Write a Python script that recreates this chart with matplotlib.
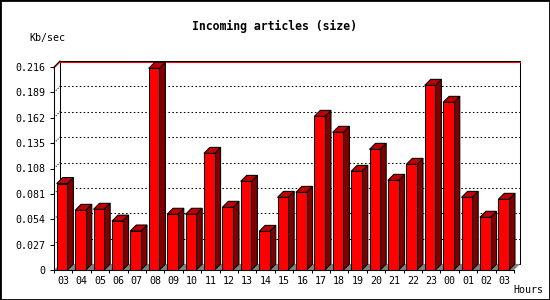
import numpy as np
import matplotlib
matplotlib.use('Agg')
from matplotlib import pyplot as plt
from matplotlib.patches import Polygon, Rectangle

# Hourly incoming article volume (Kb/sec)
hours = ['03', '04', '05', '06', '07', '08', '09', '10', '11', '12', '13', '14', '15',
         '16', '17', '18', '19', '20', '21', '22', '23', '00', '01', '02', '03']
kbps = [0.092, 0.0635, 0.0646, 0.052, 0.0415, 0.2146, 0.0593, 0.0593, 0.1241, 0.0667,
        0.0943, 0.0411, 0.0773, 0.0826, 0.1635, 0.1465, 0.105, 0.1284, 0.0954, 0.1124,
        0.1965, 0.1784, 0.0773, 0.0561, 0.0752]
y_ticks = [0, 0.027, 0.054, 0.081, 0.108, 0.135, 0.162, 0.189, 0.216]
y_tick_labels = ['0', '0.027', '0.054', '0.081', '0.108', '0.135', '0.162', '0.189', '0.216']

FIG_W, FIG_H = 550, 300
AX_LEFT, AX_BOTTOM, AX_W, AX_H = 54, 30, 460, 203  # front plane in pixels
DEPTH_PX = 6  # 3D depth offset in pixels
LW = 0.75

plt.rcParams['font.family'] = ['DejaVu Sans Mono']

fig = plt.figure(figsize=(FIG_W / 100, FIG_H / 100), dpi=100)
ax = fig.add_axes([AX_LEFT / FIG_W, AX_BOTTOM / FIG_H, AX_W / FIG_W, AX_H / FIG_H])
n = len(hours)
y_max = y_ticks[-1]
ax.set_xlim(0, n)
ax.set_ylim(0, y_max)
ax.patch.set_visible(False)

# pixel -> data conversions
px_x = n / AX_W
px_y = y_max / AX_H
dx = DEPTH_PX * px_x
dy = DEPTH_PX * px_y

# back wall
ax.add_patch(Rectangle((dx, dy), n, y_max, facecolor='white', edgecolor='black',
                       lw=LW, clip_on=False, zorder=0))
# floor
ax.add_patch(Polygon([(0, 0), (n, 0), (n + dx, dy), (dx, dy)], closed=True,
                     facecolor='#808080', edgecolor='none', clip_on=False, zorder=1))

# dotted grid on back wall and side wall
for v in y_ticks[1:-1]:
    ax.plot([dx, n + dx], [v + dy, v + dy], color='black', lw=LW, ls=(0, (1.5, 2.2)),
            clip_on=False, zorder=1)
    ax.plot([0, dx], [v, v + dy], color='black', lw=LW, ls=(0, (1, 1.5)),
            clip_on=False, zorder=1)

# red top edge
ax.plot([dx, n + dx], [y_max + dy - px_y, y_max + dy - px_y], color='red', lw=LW,
        clip_on=False, zorder=1)
ax.plot([0, dx], [y_max - px_y, y_max + dy - px_y], color='red', lw=LW,
        clip_on=False, zorder=1)
ax.plot([0, dx], [y_max, y_max + dy], color='black', lw=LW, clip_on=False, zorder=1)

# 3D bars
bar_off = 2.7 * px_x
bar_w = 10.7 * px_x
for i, v in enumerate(kbps):
    x0 = i + bar_off
    x1 = x0 + bar_w
    ax.add_patch(Polygon([(x1, 0), (x1 + dx, dy), (x1 + dx, v + dy), (x1, v)], closed=True,
                         facecolor='#800000', edgecolor='black', lw=LW, clip_on=False, zorder=3))
    ax.add_patch(Polygon([(x0, v), (x1, v), (x1 + dx, v + dy), (x0 + dx, v + dy)], closed=True,
                         facecolor='#c00000', edgecolor='black', lw=LW, clip_on=False, zorder=3))
    ax.add_patch(Rectangle((x0, 0), bar_w, v, facecolor='#ff0000', edgecolor='black',
                           lw=LW, clip_on=False, zorder=4))

# axes and ticks
for side in ['top', 'right']:
    ax.spines[side].set_visible(False)
for side in ['left', 'bottom']:
    ax.spines[side].set_linewidth(LW)
    ax.spines[side].set_zorder(5)

ax.set_yticks(y_ticks, labels=y_tick_labels)
ax.set_xticks(np.arange(n + 1), labels=[''] * (n + 1))
ax.set_xticks(np.arange(n) + 0.5, labels=hours, minor=True)
ax.tick_params(axis='y', direction='out', length=3, width=LW, labelsize=7.2, pad=3.5)
ax.tick_params(axis='x', which='major', direction='out', length=2.5, width=LW)
ax.tick_params(axis='x', which='minor', length=0, labelsize=7.2, pad=4)

fig.text(274 / FIG_W, 1 - 26 / FIG_H, 'Incoming articles (size)', ha='center', va='center',
         fontsize=8.3, fontweight='bold')
fig.text(47 / FIG_W, 1 - 37.5 / FIG_H, 'Kb/sec', ha='center', va='center', fontsize=7.2)
fig.text(528 / FIG_W, 1 - 290 / FIG_H, 'Hours', ha='center', va='center', fontsize=7.2)

# outer border
fig.add_artist(Rectangle((0, 0), 1, 1, transform=fig.transFigure, fill=False,
                         edgecolor='black', lw=2))

fig.savefig('out.png', dpi=100)
